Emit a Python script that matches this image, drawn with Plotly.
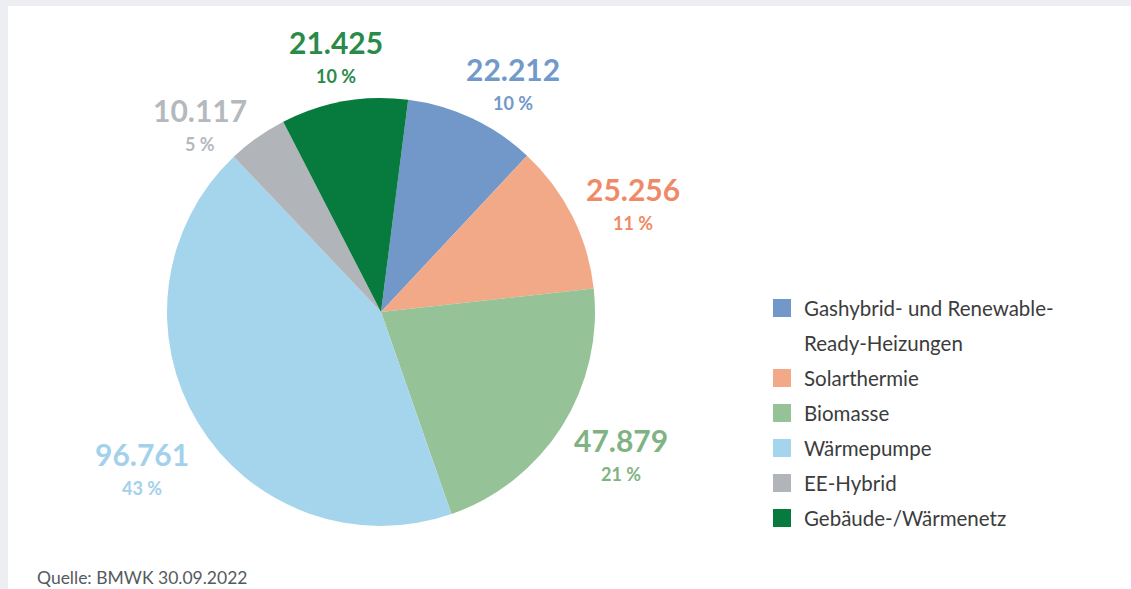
import math
import plotly.graph_objects as go

categories = ["Gashybrid- und Renewable-<br>Ready-Heizungen", "Solarthermie", "Biomasse",
              "Wärmepumpe", "EE-Hybrid", "Gebäude-/Wärmenetz"]
values = [22212, 25256, 47879, 96761, 10117, 21425]
slice_colors = ["#7198c8", "#f2a988", "#95c296", "#a5d5ed", "#b1b5ba", "#067b3d"]
label_colors = ["#7199c9", "#ef8a68", "#80b383", "#a3d1ec", "#b4b9be", "#2a8a4a"]
source_text = "Quelle: BMWK 30.09.2022"

# label placement (layout): angular nudge from slice mid-angle (deg) and distance from centre (px)
label_angle_shift = [3.35, 0.56, -4.22, 0.69, -6.6, 0.59]
label_dist = [277, 281, 272, 278, 271, 274]

W, H = 1131, 589
CX, CY, R = 381, 312, 214
ROT = 7.3

fig = go.Figure()
fig.add_trace(go.Pie(
    labels=categories, values=values, sort=False, direction="clockwise",
    rotation=ROT, textinfo="none", hoverinfo="label+value+percent",
    marker=dict(colors=slice_colors, line=dict(width=0)),
    domain=dict(x=[(CX - R) / W, (CX + R) / W], y=[1 - (CY + R) / H, 1 - (CY - R) / H]),
    showlegend=False,
))

total = sum(values)
cum = 0.0
annotations = []
for v, col, da, d in zip(values, label_colors, label_angle_shift, label_dist):
    frac = v / total
    mid = math.radians(ROT + 360 * (cum + frac / 2) + da)
    cum += frac
    px = CX + d * math.sin(mid)
    py = CY - d * math.cos(mid)
    num = f"{v:,}".replace(",", ".")
    pct = f"{round(frac * 100)} %"
    annotations.append(dict(x=px / W, y=1 - py / H, xref="paper", yref="paper",
                            text=f"<b>{num}</b>", showarrow=False, xanchor="center", yanchor="middle",
                            font=dict(family="Lato", size=30, color=col)))
    annotations.append(dict(x=px / W, y=1 - (py + 34) / H, xref="paper", yref="paper",
                            text=f"<b>{pct}</b>", showarrow=False, xanchor="center", yanchor="middle",
                            font=dict(family="Lato", size=18, color=col)))

# Legend (drawn as layout items)
shapes = [dict(type="rect", xref="paper", yref="paper", x0=8 / W, x1=1.0, y0=0, y1=1 - 6 / H,
               fillcolor="white", line=dict(width=0), layer="below")]
LX, LY, STEP, SQ = 773, 308, 35, 18
row = 0
for lab, col in zip(categories, slice_colors):
    yc = LY + row * STEP
    shapes.append(dict(type="rect", xref="paper", yref="paper",
                       x0=LX / W, x1=(LX + SQ) / W, y0=1 - (yc + SQ / 2) / H, y1=1 - (yc - SQ / 2) / H,
                       fillcolor=col, line=dict(width=0)))
    for line in lab.split("<br>"):
        annotations.append(dict(x=(LX + 29) / W, y=1 - (LY + row * STEP) / H, xref="paper", yref="paper",
                                text=line, showarrow=False, xanchor="left", yanchor="middle",
                                font=dict(family="Lato", size=20.5, color="#3c3c3c")))
        row += 1

annotations.append(dict(x=35 / W, y=1 - 577 / H, xref="paper", yref="paper", text=source_text,
                        showarrow=False, xanchor="left", yanchor="middle",
                        font=dict(family="Lato", size=17.5, color="#555a60")))

fig.update_layout(
    width=W, height=H,
    margin=dict(l=0, r=0, t=0, b=0),
    paper_bgcolor="#eceef2",
    plot_bgcolor="white",
    showlegend=False,
    annotations=annotations,
    shapes=shapes,
)

fig.write_html("out.html", config={"displayModeBar": False},
               post_script="document.body.style.margin='0';document.body.style.overflow='hidden';")
